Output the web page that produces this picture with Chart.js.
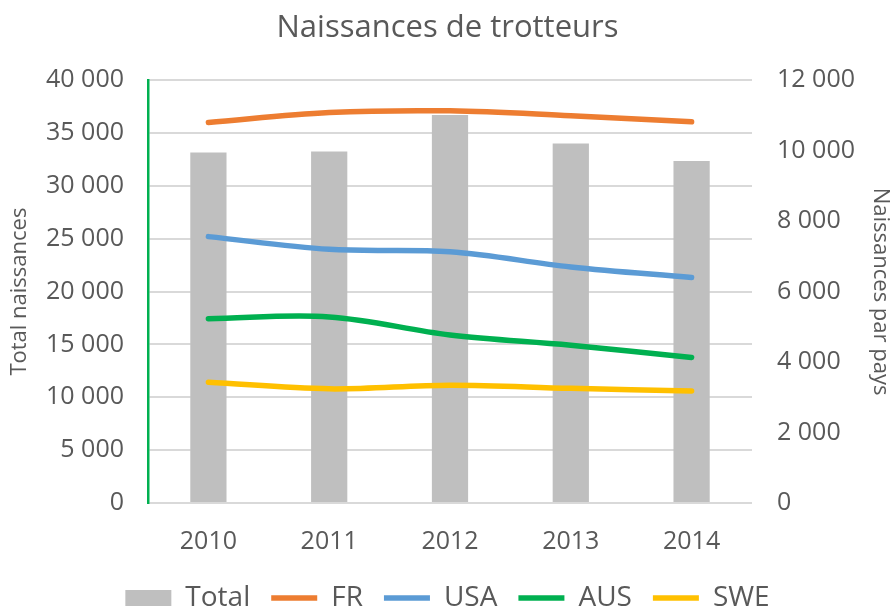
<!DOCTYPE html>
<html>
<head>
<meta charset="utf-8">
<script src="https://cdn.jsdelivr.net/npm/chart.js@4"></script>
<style>
    html, body { margin: 0; padding: 0; background: #ffffff; overflow: hidden; }
    #wrap { width: 895px; height: 622px; }
</style>
</head>
<body>
<div id="wrap"><canvas id="graph1" width="895" height="622"></canvas></div>
<script>
// Data ------------------------------------------------------------
const years = ["2010", "2011", "2012", "2013", "2014"];

// Left axis (bars)
const total = [33150, 33250, 36700, 34000, 32350];

// Right axis (lines), births per country
const fr = [10800, 11080, 11130, 10990, 10820];
const usa = [7560, 7200, 7130, 6700, 6400];
const aus = [5230, 5280, 4770, 4480, 4130];
const swe = [3430, 3240, 3345, 3255, 3180];

const leftTicks = [0, 5000, 10000, 15000, 20000, 25000, 30000, 35000, 40000];
const rightTicks = [0, 2000, 4000, 6000, 8000, 10000, 12000];

// Style ------------------------------------------------------------
const textColor = "#595959";
const fontName = "'Open Sans', 'Noto Sans', sans-serif";

// Format numbers like "40 000"
function spaced(v) {
    return String(v).replace(/\B(?=(\d{3})+(?!\d))/g, " ");
}

// One line dataset for a country
function lineSet(label, data, color) {
    return {
        type: "line",
        label: label,
        data: data,
        yAxisID: "y1",
        borderColor: color,
        backgroundColor: color,
        borderWidth: 5.5,
        borderCapStyle: "round",
        tension: 0.35,
        pointRadius: 0,
        pointHoverRadius: 0,
        pointStyle: "line",
        order: 0
    };
}

let dataGraph = {
    type: "bar",
    data: {
        labels: years,
        datasets: [
            {
                type: "bar",
                label: "Total",
                data: total,
                yAxisID: "y",
                backgroundColor: "#BFBFBF",
                borderWidth: 0,
                barPercentage: 0.3,
                categoryPercentage: 1,
                pointStyle: "rect",
                order: 1
            },
            lineSet("FR", fr, "#ED7D31"),
            lineSet("USA", usa, "#5B9BD5"),
            lineSet("AUS", aus, "#00B050"),
            lineSet("SWE", swe, "#FFC000")
        ]
    },
    options: {
        responsive: false,
        animation: false,
        layout: { padding: { left: 0, right: 0, top: 0, bottom: 0 } },
        plugins: {
            title: {
                display: true,
                text: "Naissances de trotteurs",
                color: textColor,
                font: { family: fontName, size: 31, weight: "normal" },
                padding: { top: 10, bottom: 33 }
            },
            legend: {
                position: "bottom",
                labels: {
                    color: textColor,
                    font: { family: fontName, size: 28 },
                    usePointStyle: true,
                    pointStyleWidth: 46,
                    boxHeight: 16,
                    padding: 21,
                    sort: (a, b) => a.datasetIndex - b.datasetIndex
                }
            },
            tooltip: { enabled: false }
        },
        scales: {
            x: {
                grid: { display: false },
                border: { display: false },
                ticks: {
                    color: textColor,
                    font: { family: fontName, size: 25 },
                    padding: 16
                },
                afterFit: function (scale) { scale.height = 60; }
            },
            y: {
                position: "left",
                min: 0,
                max: 40000,
                afterBuildTicks: function (scale) {
                    scale.ticks = leftTicks.map(v => ({ value: v }));
                },
                grid: { color: "#D9D9D9", lineWidth: 2, drawTicks: false },
                border: { color: "#00B050", width: 2.5 },
                ticks: {
                    color: textColor,
                    font: { family: fontName, size: 25 },
                    padding: 24,
                    callback: v => spaced(v)
                },
                title: {
                    display: true,
                    text: "Total naissances",
                    color: textColor,
                    font: { family: fontName, size: 22 },
                    padding: { top: 7, bottom: 0 }
                },
                afterFit: function (scale) { scale.width = 148; }
            },
            y1: {
                position: "right",
                min: 0,
                max: 12000,
                afterBuildTicks: function (scale) {
                    scale.ticks = rightTicks.map(v => ({ value: v }));
                },
                grid: { drawOnChartArea: false, drawTicks: false },
                border: { display: false },
                ticks: {
                    color: textColor,
                    font: { family: fontName, size: 25 },
                    padding: 25,
                    callback: v => spaced(v)
                },
                title: {
                    display: true,
                    text: "Naissances par pays",
                    color: textColor,
                    font: { family: fontName, size: 22 },
                    padding: { top: 2, bottom: 0 }
                },
                afterFit: function (scale) { scale.width = 143; }
            }
        }
    }
};

let canvas1 = document.getElementById("graph1").getContext("2d");
let chart1 = new Chart(canvas1, dataGraph);
</script>
</body>
</html>
